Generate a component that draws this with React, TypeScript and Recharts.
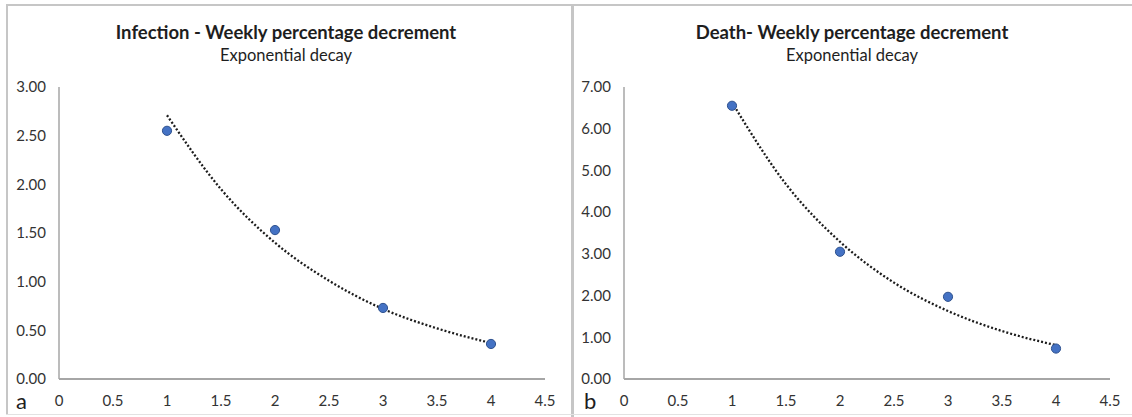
import type React from 'react';

import { ComposedChart, Line, Scatter, XAxis, YAxis } from 'recharts';

const weeks = [1, 2, 3, 4];
const infectionValues = [2.55, 1.53, 0.73, 0.36];
const deathValues = [6.55, 3.05, 1.97, 0.73];

// trend line (exponential fit)
const trendWeeks = [1, 1.5, 2, 2.5, 3, 3.5, 4];
const infectionTrend = [2.71, 1.95, 1.4, 1.01, 0.72, 0.52, 0.37];
const deathTrend = [6.63, 4.67, 3.29, 2.31, 1.63, 1.15, 0.81];

const xTicks = [0, 0.5, 1, 1.5, 2, 2.5, 3, 3.5, 4, 4.5];
const infectionYTicks = [0, 0.5, 1, 1.5, 2, 2.5, 3];
const deathYTicks = [0, 1, 2, 3, 4, 5, 6, 7];

const FONT = 'Lato, "Open Sans", sans-serif';
const AXIS_COLOR = '#a6a6a6';
const TICK_COLOR = '#333333';
const BORDER = '#c6c6c6';

interface PanelProps {
   left: number;
   width: number;
   marginLeft: number;
   marginRight: number;
   title: string;
   letter: string;
   letterX: number;
   values: number[];
   trend: number[];
   yTicks: number[];
}

const Panel: React.FC<PanelProps> = ({ left, width, marginLeft, marginRight, title, letter, letterX, values, trend, yTicks }) => {
   const points = weeks.map((w, i) => ({ x: w, y: values[i] }));
   const trendData = trendWeeks.map((w, i) => ({ x: w, y: trend[i] }));
   const yMax = yTicks[yTicks.length - 1];

   return (
      <div style={{ position: 'absolute', left, top: 0, width, height: 417 }}>
         <div style={{ position: 'absolute', left: 0, width: width, top: 20, textAlign: 'center', fontFamily: FONT, fontWeight: 700, fontSize: 18.5, color: '#1e1e1e', lineHeight: '24px' }}>{title}</div>
         <div style={{ position: 'absolute', left: 0, width: width, top: 44, textAlign: 'center', fontFamily: FONT, fontSize: 16.5, color: '#1e1e1e', lineHeight: '22px' }}>Exponential decay</div>
         <div style={{ position: 'absolute', left: letterX, top: 388, fontFamily: FONT, fontSize: 22, color: '#1e1e1e', lineHeight: '26px' }}>{letter}</div>

         <ComposedChart width={width} height={417} margin={{ top: 87, right: marginRight, left: marginLeft, bottom: 8 }}>
            <XAxis
               type="number"
               dataKey="x"
               domain={[0, 4.5]}
               ticks={xTicks}
               interval={0}
               height={30}
               tickLine={false}
               tickSize={0}
               tickMargin={16}
               axisLine={{ stroke: AXIS_COLOR, strokeWidth: 2 }}
               tick={{ fontSize: 15, fill: TICK_COLOR, fontFamily: FONT }}
               allowDataOverflow
            />

            <YAxis
               type="number"
               dataKey="y"
               domain={[0, yMax]}
               ticks={yTicks}
               interval={0}
               width={45}
               tickLine={false}
               tickSize={0}
               tickMargin={13}
               axisLine={{ stroke: AXIS_COLOR, strokeWidth: 1.5 }}
               tick={{ fontSize: 15, fill: TICK_COLOR, fontFamily: FONT }}
               tickFormatter={(v: number) => v.toFixed(2)}
            />

            <Line data={trendData} dataKey="y" type="monotone" stroke="#1c1c1c" strokeWidth={2.3} strokeDasharray="2 2" dot={false} activeDot={false} isAnimationActive={false} />

            <Scatter data={points} dataKey="y" fill="#4472c4" stroke="#2f528f" strokeWidth={1} isAnimationActive={false} shape={(p: any) => <circle cx={p.cx} cy={p.cy} r={4.6} fill="#4472c4" stroke="#2f528f" strokeWidth={1} />} />
         </ComposedChart>
      </div>
   );
};

const App: React.FC = () => {
   return (
      <div style={{ position: 'absolute', left: 0, top: 0, width: 1132, height: 417, background: '#fff', overflow: 'hidden' }}>
         <Panel left={0} width={572} marginLeft={14} marginRight={27} title="Infection - Weekly percentage decrement" letter="a" letterX={16} values={infectionValues} trend={infectionTrend} yTicks={infectionYTicks} />
         <Panel left={572} width={560} marginLeft={7} marginRight={22} title="Death- Weekly percentage decrement" letter="b" letterX={12} values={deathValues} trend={deathTrend} yTicks={deathYTicks} />

         <div style={{ position: 'absolute', left: 6, top: 4, width: 1126, height: 2, background: BORDER }} />
         <div style={{ position: 'absolute', left: 6, top: 4, width: 2, height: 411, background: BORDER }} />
         <div style={{ position: 'absolute', left: 571, top: 4, width: 3, height: 413, background: BORDER }} />
         <div style={{ position: 'absolute', left: 6, top: 414, width: 1126, height: 1, background: '#e2e2e2' }} />
      </div>
   );
};

export default App;
